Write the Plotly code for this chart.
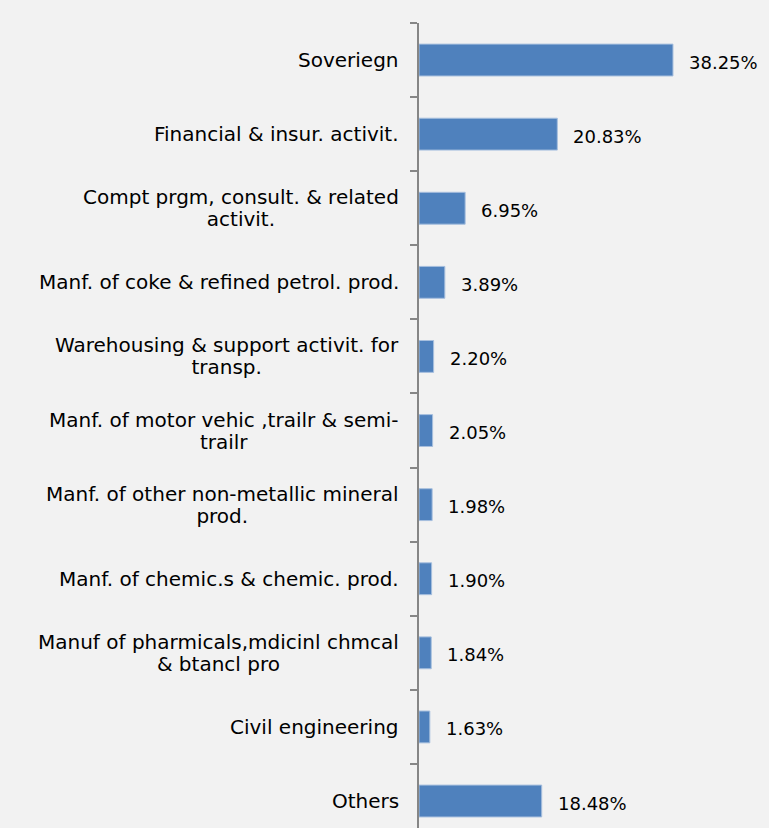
import plotly.graph_objects as go

categories = [
    "Soveriegn",
    "Financial & insur. activit.",
    "Compt prgm, consult. & related<br>activit.",
    "Manf. of coke & refined petrol. prod.",
    "Warehousing & support activit. for<br>transp.",
    "Manf. of motor vehic ,trailr & semi-<br>trailr",
    "Manf. of other non-metallic mineral<br>prod.",
    "Manf. of chemic.s & chemic. prod.",
    "Manuf of pharmicals,mdicinl chmcal<br>& btancl pro",
    "Civil engineering",
    "Others",
]
values = [38.25, 20.83, 6.95, 3.89, 2.20, 2.05, 1.98, 1.90, 1.84, 1.63, 18.48]
value_labels = ["38.25%", "20.83%", "6.95%", "3.89%", "2.20%", "2.05%",
                "1.98%", "1.90%", "1.84%", "1.63%", "18.48%"]

FONT = "DejaVu Sans"
LABEL_PX = 20
VAL_FS = 18


def styled(label):
    parts = label.split("<br>")
    return "<br>".join(
        f"<span style='font-size:{LABEL_PX}px'>{p}</span>" for p in parts
    )


fig = go.Figure()
fig.add_trace(go.Bar(
    x=values,
    y=categories,
    orientation="h",
    marker=dict(color="#4F81BD", line=dict(color="#A7BFDE", width=1)),
    hoverinfo="skip",
))

annotations = []
for c, v, t in zip(categories, values, value_labels):
    annotations.append(dict(
        x=v, y=c, xref="x", yref="y", text=t, showarrow=False,
        xanchor="left", yanchor="middle", xshift=14, yshift=-2,
        font=dict(family=FONT, size=VAL_FS, color="#000000"),
    ))
    annotations.append(dict(
        x=0, y=c, xref="paper", yref="y", text=styled(c), showarrow=False,
        xanchor="right", yanchor="middle", xshift=-18, align="center",
        font=dict(family=FONT, size=17, color="#000000"),
    ))

fig.update_layout(
    width=769, height=828,
    margin=dict(l=419, r=18, t=23, b=0),
    paper_bgcolor="#F2F2F2",
    plot_bgcolor="#F2F2F2",
    bargap=0.57,
    showlegend=False,
    annotations=annotations,
    xaxis=dict(range=[0, 50], visible=False, showgrid=False, zeroline=False),
    yaxis=dict(
        type="category",
        categoryorder="array",
        categoryarray=categories,
        range=[10.364, -0.5],
        showticklabels=False,
        tickson="boundaries",
        ticks="outside",
        ticklen=7,
        tickwidth=1.5,
        tickcolor="#868686",
        showline=True,
        linecolor="#868686",
        linewidth=2,
        showgrid=False,
        zeroline=False,
    ),
)

fig.write_html("out.html")
